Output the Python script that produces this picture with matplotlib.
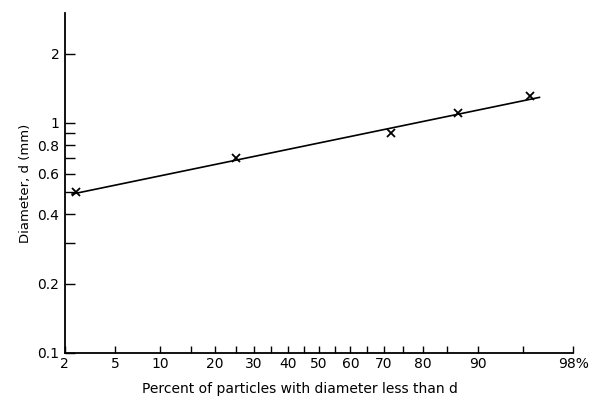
from statistics import NormalDist
import numpy as np
from matplotlib import pyplot as plt
from matplotlib.ticker import FixedLocator, NullFormatter

# measured points (percent finer, diameter in mm)
pct = [2.5, 25, 72, 87, 95.6]
diam = [0.50, 0.70, 0.90, 1.10, 1.31]

# fitted straight line on log-probability paper
line_pct = [2.3, 96.25]
line_diam = [0.49, 1.29]

x_major = [2, 5, 10, 20, 30, 40, 50, 60, 70, 80, 90, 98]
x_labels = ['2', '5', '10', '20', '30', '40', '50', '60', '70', '80', '90', '98%']
x_minor = [15, 25, 35, 45, 55, 65, 75, 85, 95]

y_major = [0.1, 0.2, 0.4, 0.6, 0.8, 1, 2]
y_labels = ['0.1', '0.2', '0.4', '0.6', '0.8', '1', '2']
y_minor = [0.3, 0.5, 0.7, 0.9]

nd = NormalDist()


def _fwd(p):
    p = min(max(p, 1e-6), 100 - 1e-6)
    return nd.inv_cdf(p / 100.0)


def _inv(z):
    return nd.cdf(z) * 100.0


prob_fwd = np.vectorize(_fwd, otypes=[float])
prob_inv = np.vectorize(_inv, otypes=[float])

plt.rcParams['font.family'] = ['DejaVu Sans']
fig = plt.figure(figsize=(6.06, 3.96), dpi=100)
ax = fig.add_axes([0.107, 0.109, 0.839, 0.858])

ax.set_xscale('function', functions=(prob_fwd, prob_inv))
ax.set_yscale('log')

ax.plot(line_pct, line_diam, color='black', lw=1.2)
ax.plot(pct, diam, 'x', color='black', ms=6, mew=1.3)

ax.set_xlim(2, 98)
ax.set_ylim(0.1, 3)

ax.xaxis.set_major_locator(FixedLocator(x_major))
ax.xaxis.set_minor_locator(FixedLocator(x_minor))
ax.set_xticklabels(x_labels)
ax.xaxis.set_minor_formatter(NullFormatter())

ax.yaxis.set_major_locator(FixedLocator(y_major))
ax.yaxis.set_minor_locator(FixedLocator(y_minor))
ax.set_yticklabels(y_labels)
ax.yaxis.set_minor_formatter(NullFormatter())

ax.tick_params(axis='x', which='both', direction='in', length=5, width=1, labelsize=10, pad=3)
ax.tick_params(axis='y', which='both', direction='in', length=7, width=1, labelsize=10, pad=4)

for s in ['top', 'right']:
    ax.spines[s].set_visible(False)
for s in ['left', 'bottom']:
    ax.spines[s].set_linewidth(1.3)

ax.set_ylabel('Diameter, d (mm)', fontsize=9.5, labelpad=4)
ax.set_xlabel('Percent of particles with diameter less than d', fontsize=10, labelpad=8)
ax.xaxis.set_label_coords(0.463, -0.085)

fig.savefig('out.png', dpi=100)
